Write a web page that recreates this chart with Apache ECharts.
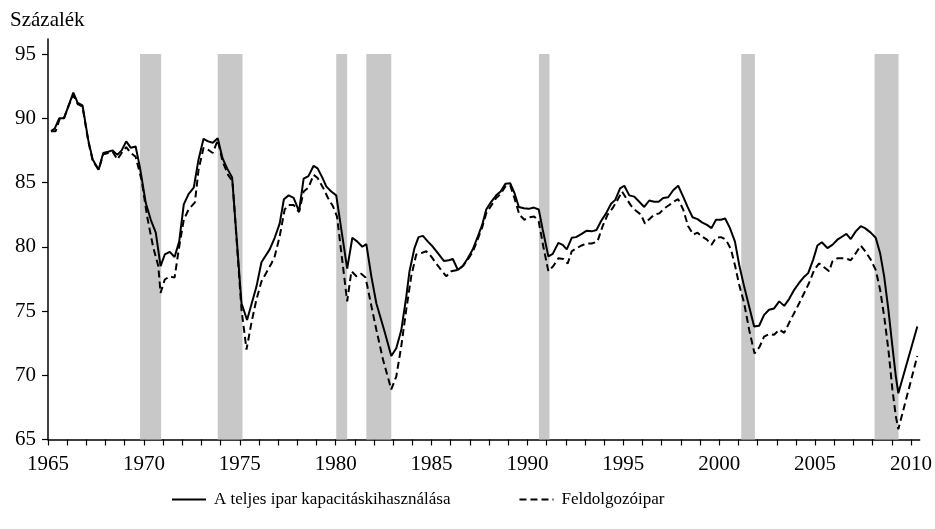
<!DOCTYPE html>
<html>
<head>
<meta charset="utf-8">
<script src="https://cdn.jsdelivr.net/npm/echarts@6/dist/echarts.min.js"></script>
<style>
html,body{margin:0;padding:0;background:#fff;}
#chart{width:935px;height:529px;}
</style>
</head>
<body>
<div id="chart"></div>
<script>
// ---- data ----
const yAxisTitle = 'Százalék';
const seriesNames = ['A teljes ipar kapacitáskihasználása', 'Feldolgozóipar'];
const yTickValues = [65, 70, 75, 80, 85, 90, 95];
const xLabelYears = [1965, 1970, 1975, 1980, 1985, 1990, 1995, 2000, 2005, 2010];

// recession bands (years)
const recessionStart = [1969.8, 1973.85, 1980.03, 1981.6, 1990.6, 2001.15, 2008.1];
const recessionEnd   = [1970.9, 1975.14, 1980.6, 1982.9, 1991.15, 2001.86, 2009.35];

// total industry capacity utilisation
const totalYears = [1965.16,1965.35,1965.59,1965.83,1966.08,1966.32,1966.55,1966.8,1967.1,1967.33,1967.64,1967.88,1968.14,1968.37,1968.61,1968.84,1969.08,1969.32,1969.57,1969.79,1970.1,1970.36,1970.62,1970.87,1971.09,1971.35,1971.6,1971.84,1972.08,1972.33,1972.6,1972.85,1973.11,1973.35,1973.59,1973.85,1974.1,1974.34,1974.6,1975.09,1975.38,1975.87,1976.13,1976.56,1976.82,1977.08,1977.3,1977.55,1977.81,1978.09,1978.33,1978.58,1978.85,1979.06,1979.3,1979.51,1979.77,1980.03,1980.6,1980.87,1981.13,1981.39,1981.6,1981.86,1982.12,1982.55,1982.9,1983.16,1983.42,1983.68,1983.85,1984.11,1984.32,1984.55,1984.81,1985.07,1985.38,1985.64,1985.9,1986.11,1986.37,1986.63,1986.89,1987.15,1987.41,1987.64,1987.85,1988.11,1988.37,1988.6,1988.85,1989.1,1989.32,1989.55,1989.81,1990.07,1990.33,1990.59,1990.8,1991.09,1991.32,1991.61,1991.84,1992.05,1992.31,1992.53,1992.83,1993.09,1993.35,1993.6,1993.84,1994.1,1994.36,1994.58,1994.83,1995.05,1995.31,1995.57,1995.83,1996.09,1996.35,1996.61,1996.84,1997.08,1997.34,1997.6,1997.86,1998.12,1998.35,1998.61,1998.87,1999.1,1999.36,1999.6,1999.83,2000.09,2000.31,2000.56,2000.82,2001.04,2001.3,2001.56,2001.82,2002.08,2002.34,2002.6,2002.86,2003.13,2003.39,2003.65,2003.91,2004.17,2004.39,2004.64,2004.9,2005.12,2005.35,2005.64,2005.9,2006.16,2006.42,2006.63,2006.86,2007.12,2007.38,2007.6,2007.9,2008.16,2008.39,2008.6,2008.82,2009.03,2009.21,2009.34,2010.33];
const totalValues = [89.0,89.2,90.0,90.0,91.0,92.0,91.2,91.0,88.3,86.8,86.0,87.3,87.4,87.5,87.15,87.5,88.2,87.7,87.8,86.2,83.4,82.1,81.1,78.5,79.4,79.6,79.2,80.4,83.3,84.1,84.6,86.8,88.4,88.2,88.1,88.45,86.9,86.1,85.4,75.6,74.3,76.9,78.8,79.8,80.7,81.8,83.7,84.0,83.8,82.75,85.3,85.5,86.3,86.1,85.4,84.7,84.3,84.0,78.3,80.7,80.4,80.0,80.2,77.7,75.6,73.4,71.5,72.1,73.5,76.1,78.1,79.9,80.75,80.85,80.4,80.0,79.4,78.9,78.95,79.05,78.2,78.5,79.1,79.8,80.8,81.7,82.9,83.5,84.0,84.3,84.9,84.95,84.2,83.1,83.0,82.95,83.05,82.9,81.3,79.25,79.45,80.3,80.15,79.8,80.7,80.75,81.0,81.25,81.2,81.3,82.0,82.6,83.35,83.65,84.55,84.75,84.0,83.9,83.5,83.1,83.6,83.5,83.5,83.8,83.85,84.4,84.75,83.9,83.1,82.3,82.15,81.9,81.7,81.45,82.1,82.1,82.2,81.45,80.4,78.6,76.9,75.35,73.8,73.85,74.7,75.1,75.2,75.75,75.4,75.95,76.65,77.2,77.6,77.95,79.0,80.1,80.35,79.9,80.15,80.55,80.8,81.0,80.6,81.2,81.6,81.45,81.1,80.7,79.5,77.7,75.1,72.25,69.9,68.6,73.8];

// manufacturing
const mfgYears = [1965.16,1965.4,1965.62,1965.83,1966.08,1966.32,1966.55,1966.8,1967.1,1967.33,1967.64,1967.88,1968.14,1968.37,1968.61,1968.84,1969.08,1969.32,1969.57,1969.88,1970.17,1970.48,1970.75,1970.87,1971.09,1971.35,1971.6,1971.84,1972.08,1972.33,1972.66,1972.85,1973.11,1973.35,1973.59,1973.85,1974.1,1974.39,1974.62,1975.09,1975.35,1975.61,1975.87,1976.13,1976.39,1976.65,1976.82,1977.08,1977.34,1977.55,1977.81,1978.09,1978.33,1978.58,1978.85,1979.06,1979.34,1979.6,1979.86,1980.07,1980.6,1980.82,1981.08,1981.33,1981.56,1981.86,1982.12,1982.47,1982.9,1983.16,1983.42,1983.68,1983.94,1984.2,1984.46,1984.72,1984.98,1985.24,1985.5,1985.77,1986.03,1986.37,1986.63,1986.89,1987.15,1987.41,1987.64,1987.85,1988.11,1988.37,1988.6,1988.85,1989.1,1989.32,1989.58,1989.84,1990.1,1990.36,1990.59,1990.83,1991.09,1991.35,1991.61,1991.87,1992.1,1992.31,1992.57,1992.83,1993.09,1993.35,1993.65,1993.92,1994.18,1994.44,1994.7,1994.93,1995.14,1995.4,1995.66,1995.92,1996.13,1996.35,1996.61,1996.88,1997.14,1997.4,1997.62,1997.86,1998.12,1998.38,1998.65,1998.87,1999.1,1999.36,1999.6,1999.83,2000.09,2000.35,2000.61,2000.83,2001.04,2001.3,2001.56,2001.84,2002.1,2002.34,2002.6,2002.86,2003.13,2003.39,2003.65,2003.91,2004.17,2004.43,2004.69,2004.95,2005.21,2005.47,2005.73,2005.9,2006.16,2006.42,2006.68,2006.86,2007.12,2007.38,2007.64,2007.9,2008.16,2008.39,2008.6,2008.82,2009.03,2009.21,2009.34,2010.33];
const mfgValues = [89.0,89.0,90.0,90.0,91.0,91.8,91.1,90.9,88.2,86.7,86.0,87.2,87.3,87.4,86.8,87.3,87.75,87.3,87.0,85.2,82.35,80.0,78.5,76.4,77.45,77.7,77.6,80.0,82.1,82.9,83.45,86.0,87.7,87.55,87.3,88.3,86.65,85.6,85.1,75.1,72.0,74.1,75.9,77.3,78.0,78.7,79.25,80.8,82.9,83.25,83.25,82.7,84.3,84.6,85.6,85.35,84.6,83.8,83.15,82.35,75.75,78.1,77.7,77.9,77.6,75.4,73.55,71.2,68.9,69.9,72.25,75.1,77.7,79.4,79.5,79.65,79.25,78.7,78.2,77.7,78.1,78.2,78.5,79.0,79.6,80.6,81.5,82.6,83.2,83.8,84.1,84.7,84.8,83.8,82.5,82.1,82.3,82.35,81.95,80.0,78.1,78.5,79.1,79.05,78.7,79.65,79.9,80.1,80.25,80.25,80.4,81.6,82.5,83.0,83.65,84.3,83.8,83.2,82.8,82.5,81.8,82.15,82.5,82.6,83.0,83.25,83.5,83.7,82.9,81.6,80.95,81.1,80.8,80.55,80.15,80.7,80.75,80.55,79.8,78.5,77.05,75.6,73.55,71.7,72.2,73.0,73.2,73.15,73.55,73.3,74.1,74.85,75.6,76.4,77.2,78.2,78.7,78.4,78.1,78.85,79.1,79.1,79.05,78.95,79.5,80.1,79.6,79.0,78.2,76.65,74.6,72.0,68.9,66.8,65.8,71.5];

// ---- build ----
const FONT = '"Liberation Serif", "Times New Roman", serif';
const pairs = (xs, ys) => xs.map((x, i) => [x, ys[i]]);
const tickYears = [];
for (let y = xLabelYears[0]; y <= xLabelYears[xLabelYears.length - 1]; y++) tickYears.push(y);
const bands = recessionStart.map((s, i) => [
  { xAxis: s, yAxis: yTickValues[0] },
  { xAxis: recessionEnd[i], yAxis: yTickValues[yTickValues.length - 1] }
]);

const chart = echarts.init(document.getElementById('chart'), null, { renderer: 'canvas' });
chart.setOption({
  animation: false,
  backgroundColor: '#ffffff',
  title: {
    text: yAxisTitle, left: 5, top: 5,
    textStyle: { fontFamily: FONT, fontSize: 21, fontWeight: 'normal', color: '#000' }
  },
  legend: {
    data: seriesNames,
    left: 166, top: 486,
    itemWidth: 34, itemHeight: 12, itemGap: 68,
    itemStyle: { opacity: 0 },
    textStyle: { fontFamily: FONT, fontSize: 17, color: '#000', padding: [0, 0, 0, 3] }
  },
  grid: { left: 48, right: 14, top: 39, bottom: 89.5, containLabel: false },
  xAxis: {
    type: 'value', min: 1965, max: 2010.45,
    axisLine: { lineStyle: { color: '#000', width: 1.5 } },
    axisTick: { show: true, length: 6, inside: false, customValues: tickYears, lineStyle: { color: '#000', width: 1.2 } },
    axisLabel: { customValues: xLabelYears, margin: 14, fontFamily: FONT, fontSize: 21, color: '#000', formatter: v => String(v) },
    splitLine: { show: false }
  },
  yAxis: {
    type: 'value', min: 65, max: 96.17,
    axisLine: { show: true, lineStyle: { color: '#000', width: 1.5 } },
    axisTick: { show: true, length: 6, customValues: yTickValues, lineStyle: { color: '#000', width: 1.2 } },
    axisLabel: { customValues: yTickValues, margin: 12, fontFamily: FONT, fontSize: 21, color: '#000' },
    splitLine: { show: false }
  },
  series: [
    {
      name: seriesNames[0], type: 'line', data: pairs(totalYears, totalValues),
      symbol: 'none', showSymbol: false, z: 3,
      lineStyle: { color: '#000', width: 2, type: 'solid' },
      itemStyle: { color: '#000' },
      markArea: { silent: true, itemStyle: { color: '#c8c8c8' }, data: bands, z: 1 }
    },
    {
      name: seriesNames[1], type: 'line', data: pairs(mfgYears, mfgValues),
      symbol: 'none', showSymbol: false, z: 2,
      lineStyle: { color: '#000', width: 2, type: [7, 4] },
      itemStyle: { color: '#000' }
    }
  ]
});
</script>
</body>
</html>
